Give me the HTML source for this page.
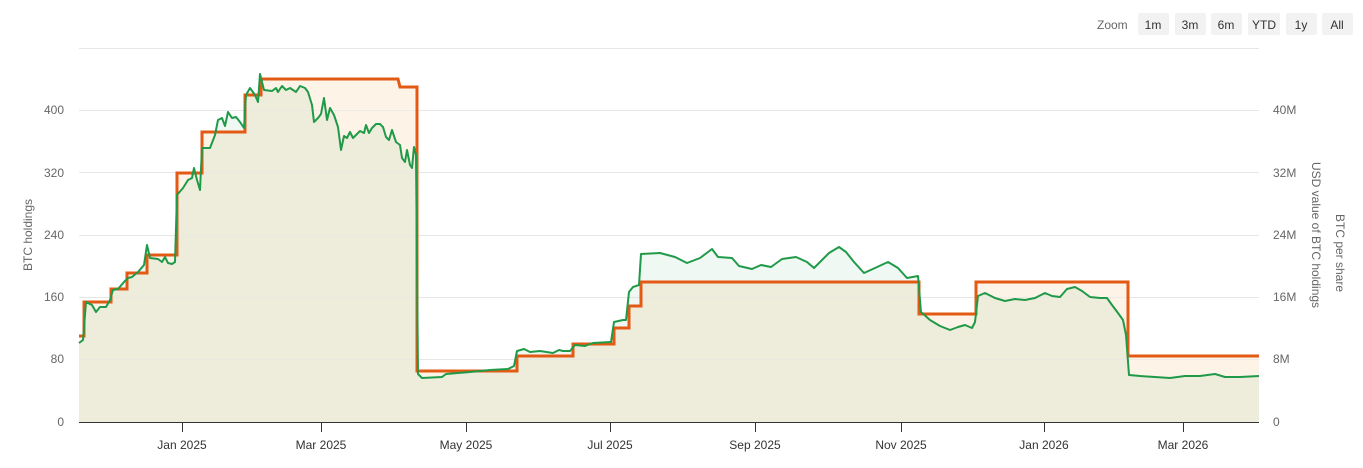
<!DOCTYPE html><html><head><style>body{margin:0;background:#fff;font-family:"Liberation Sans",sans-serif}</style></head><body>
<svg width="1363" height="463" xmlns="http://www.w3.org/2000/svg" font-family="Liberation Sans, sans-serif">
<g font-size="12" fill="#333">
<text x="1097" y="29" fill="#666">Zoom</text>
<rect x="1138" y="13" width="31" height="22" fill="#f2f2f2" rx="2"/><text x="1153" y="29" text-anchor="middle">1m</text>
<rect x="1175" y="13" width="31" height="22" fill="#f2f2f2" rx="2"/><text x="1190" y="29" text-anchor="middle">3m</text>
<rect x="1211" y="13" width="31" height="22" fill="#f2f2f2" rx="2"/><text x="1226" y="29" text-anchor="middle">6m</text>
<rect x="1248" y="13" width="32" height="22" fill="#f2f2f2" rx="2"/><text x="1264" y="29" text-anchor="middle">YTD</text>
<rect x="1286" y="13" width="31" height="22" fill="#f2f2f2" rx="2"/><text x="1301" y="29" text-anchor="middle">1y</text>
<rect x="1322" y="13" width="31" height="22" fill="#f2f2f2" rx="2"/><text x="1337" y="29" text-anchor="middle">All</text>
</g>
<g stroke="#e6e6e6" stroke-width="1">
<line x1="79" x2="1259" y1="48.5" y2="48.5"/><line x1="79" x2="1259" y1="110.5" y2="110.5"/><line x1="79" x2="1259" y1="172.5" y2="172.5"/><line x1="79" x2="1259" y1="235.5" y2="235.5"/><line x1="79" x2="1259" y1="297.5" y2="297.5"/><line x1="79" x2="1259" y1="359.5" y2="359.5"/>
</g>
<path fill="#fdf3e6" stroke="none" d="M79,422 L79,336 L84,336 L84,302 L111,302 L111,289 L127,289 L127,273 L147,273 L147,255 L177,255 L177,173 L202,173 L202,132 L245,132 L245,95 L261,95 L261,79 L398,79 L400,87 L417,87 L417,371 L517,371 L517,356 L573,356 L573,344 L614,344 L614,328 L629,328 L629,306 L641,306 L641,282 L919,282 L919,314 L976,314 L976,282 L1128,282 L1128,356 L1259,356 L1259,422 Z"/>
<path fill="rgba(40,160,90,0.07)" stroke="none" d="M79,422 L79,343 83,340 86,302 92,305 96,312 100,307 106,307 110,300 113,290 118,289 124,282 128,278 132,277 138,272 144,265 147,245 150,258 158,259 162,262 165,257 168,263 172,264 175,262 177,195 183,188 188,180 192,178 194,168 197,180 200,190 202,148 210,148 215,135 218,120 222,118 225,126 228,112 232,118 236,117 240,122 244,128 246,95 250,88 255,95 258,102 260,74 264,90 272,91 276,88 278,92 282,86 286,90 290,88 296,92 300,86 305,88 308,92 312,105 314,122 318,118 321,114 324,98 327,120 330,108 334,115 338,127 341,150 344,136 347,138 350,132 353,138 356,135 360,131 364,133 366,125 369,133 372,128 376,124 380,124 383,127 386,137 389,140 392,130 396,142 400,145 402,158 405,162 407,150 410,165 412,168 414,147 416,155 418,374 422,378 442,377 446,374 470,372 490,370 508,369 514,366 517,351 524,349 530,352 540,351 553,353 559,350 563,351 570,351 575,345 585,346 593,343 611,342 614,322 623,320 626,320 629,292 633,287 639,285 641,254 660,253 675,257 687,263 700,258 712,249 718,257 732,258 739,266 752,269 761,265 771,267 782,259 796,257 807,262 814,268 829,253 839,247 846,252 854,262 864,273 875,268 888,262 898,268 907,278 918,276 921,312 930,320 940,326 950,330 958,327 965,325 972,328 975,322 978,296 985,293 995,298 1005,301 1015,299 1025,300 1035,298 1045,293 1052,296 1060,297 1067,289 1075,287 1082,291 1090,297 1100,298 1107,298 1112,305 1118,313 1123,320 1126,335 1129,375 1140,376 1155,377 1170,378 1185,376 1200,376 1215,374 1225,377 1240,377 1259,376 L1259,422 Z"/>
<g stroke="#e6e6e6" stroke-width="1" opacity="0.6">
<line x1="79" x2="1259" y1="110.5" y2="110.5"/><line x1="79" x2="1259" y1="172.5" y2="172.5"/><line x1="79" x2="1259" y1="235.5" y2="235.5"/><line x1="79" x2="1259" y1="297.5" y2="297.5"/><line x1="79" x2="1259" y1="359.5" y2="359.5"/>
</g>
<g font-size="12" fill="#666" text-anchor="end">
<text x="64" y="114">400</text><text x="64" y="177">320</text><text x="64" y="239">240</text><text x="64" y="301">160</text><text x="64" y="363">80</text><text x="64" y="426">0</text>
</g>
<g font-size="12" fill="#666">
<text x="1273" y="114">40M</text><text x="1273" y="177">32M</text><text x="1273" y="239">24M</text><text x="1273" y="301">16M</text><text x="1273" y="363">8M</text><text x="1273" y="426">0</text>
</g>
<text transform="translate(32,235) rotate(-90)" font-size="12" fill="#666" text-anchor="middle">BTC holdings</text>
<text transform="translate(1312,235) rotate(90)" font-size="12" fill="#666" text-anchor="middle">USD value of BTC holdings</text>
<text transform="translate(1336,253) rotate(90)" font-size="12" fill="#666" text-anchor="middle">BTC per share</text>
<path fill="none" stroke="#e35a14" stroke-width="3" d="M79,336 L84,336 L84,302 L111,302 L111,289 L127,289 L127,273 L147,273 L147,255 L177,255 L177,173 L202,173 L202,132 L245,132 L245,95 L261,95 L261,79 L398,79 L400,87 L417,87 L417,371 L517,371 L517,356 L573,356 L573,344 L614,344 L614,328 L629,328 L629,306 L641,306 L641,282 L919,282 L919,314 L976,314 L976,282 L1128,282 L1128,356 L1259,356"/>
<polyline fill="none" stroke="#1f9a48" stroke-width="2" stroke-linejoin="round" points="79,343 83,340 86,302 92,305 96,312 100,307 106,307 110,300 113,290 118,289 124,282 128,278 132,277 138,272 144,265 147,245 150,258 158,259 162,262 165,257 168,263 172,264 175,262 177,195 183,188 188,180 192,178 194,168 197,180 200,190 202,148 210,148 215,135 218,120 222,118 225,126 228,112 232,118 236,117 240,122 244,128 246,95 250,88 255,95 258,102 260,74 264,90 272,91 276,88 278,92 282,86 286,90 290,88 296,92 300,86 305,88 308,92 312,105 314,122 318,118 321,114 324,98 327,120 330,108 334,115 338,127 341,150 344,136 347,138 350,132 353,138 356,135 360,131 364,133 366,125 369,133 372,128 376,124 380,124 383,127 386,137 389,140 392,130 396,142 400,145 402,158 405,162 407,150 410,165 412,168 414,147 416,155 418,374 422,378 442,377 446,374 470,372 490,370 508,369 514,366 517,351 524,349 530,352 540,351 553,353 559,350 563,351 570,351 575,345 585,346 593,343 611,342 614,322 623,320 626,320 629,292 633,287 639,285 641,254 660,253 675,257 687,263 700,258 712,249 718,257 732,258 739,266 752,269 761,265 771,267 782,259 796,257 807,262 814,268 829,253 839,247 846,252 854,262 864,273 875,268 888,262 898,268 907,278 918,276 921,312 930,320 940,326 950,330 958,327 965,325 972,328 975,322 978,296 985,293 995,298 1005,301 1015,299 1025,300 1035,298 1045,293 1052,296 1060,297 1067,289 1075,287 1082,291 1090,297 1100,298 1107,298 1112,305 1118,313 1123,320 1126,335 1129,375 1140,376 1155,377 1170,378 1185,376 1200,376 1215,374 1225,377 1240,377 1259,376"/>
<line x1="79" x2="1259" y1="422.5" y2="422.5" stroke="#333" stroke-width="1"/>
<g stroke="#333"><line x1="182.5" x2="182.5" y1="422" y2="432"/><line x1="321.5" x2="321.5" y1="422" y2="432"/><line x1="466.5" x2="466.5" y1="422" y2="432"/><line x1="610.5" x2="610.5" y1="422" y2="432"/><line x1="755.5" x2="755.5" y1="422" y2="432"/><line x1="901.5" x2="901.5" y1="422" y2="432"/><line x1="1044.5" x2="1044.5" y1="422" y2="432"/><line x1="1183.5" x2="1183.5" y1="422" y2="432"/></g>
<g font-size="12" fill="#333" text-anchor="middle">
<text x="182" y="449">Jan 2025</text><text x="321" y="449">Mar 2025</text><text x="466" y="449">May 2025</text><text x="610" y="449">Jul 2025</text><text x="755" y="449">Sep 2025</text><text x="901" y="449">Nov 2025</text><text x="1044" y="449">Jan 2026</text><text x="1183" y="449">Mar 2026</text>
</g>
</svg></body></html>
